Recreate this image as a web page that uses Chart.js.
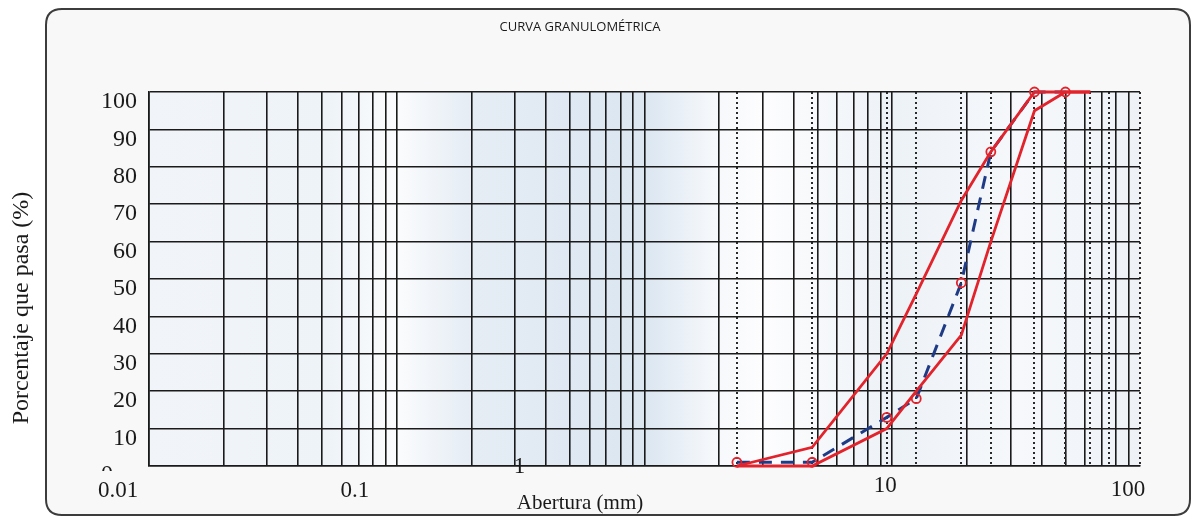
<!DOCTYPE html>
<html>
<head>
<meta charset="utf-8">
<title>Curva granulométrica</title>
<script src="https://cdn.jsdelivr.net/npm/chart.js@4/dist/chart.umd.min.js"></script>
<style>
  html, body { margin: 0; padding: 0; background: #ffffff; }
  #wrap { width: 1193px; height: 518px; position: relative; }
  canvas { display: block; }
</style>
</head>
<body>
<div id="wrap"><canvas id="chart" width="1193" height="518"></canvas></div>
<script>
// Sieve openings (mm) at which the curves are plotted
const sieveSizes = [2.36, 4.75, 9.5, 12.5, 19, 25, 37.5, 50, 63];
// Gradation limits (% passing)
const upperLimit = [0, 5, 30, 46, 71, 84, 100, 100, 100];
const lowerLimit = [0, 0, 10, 20, 35, 60, 95, 100, 100];
// Sample gradation (% passing)
const samplePassing = [1, 1, 13, 18, 49, 84, 100, 100, null];
// Dotted reference lines at the standard sieve openings (mm)
const sieveLines = [2.36, 4.75, 9.5, 12.5, 19, 25, 37.5, 50, 63, 75, 100];
// Axis labels
const xTickValues = [0.01, 0.1, 1, 10, 100];
const xTickLabels = ['0.01', '0.1', '1', '10', '100'];
const yTickValues = [0, 10, 20, 30, 40, 50, 60, 70, 80, 90, 100];

// Label placement tweaks (pixels) for the decade labels
const xLabelShift = [-31, -42, -125, -7, -12];
const xLabelY = [491, 491, 467, 486, 490];

const RED = '#e2232b';
const NAVY = '#1f3b86';
const INK = '#1a1a1a';
const SERIF = '"Liberation Serif", "DejaVu Serif", serif';

// Log grid: 1..9 times each decade
const logGrid = [];
for (let e = -2; e <= 1; e++) {
  for (let k = 1; k <= 9; k++) logGrid.push(k * Math.pow(10, e));
}

const toPoints = (vals) => sieveSizes.map((s, i) => ({ x: s, y: vals[i] }));

const framePlugin = {
  id: 'frame',
  beforeDraw(chart) {
    const { ctx, chartArea: a } = chart;
    ctx.save();
    // rounded outer panel
    const x0 = 46, y0 = 9, x1 = 1190, y1 = 515, r = 16;
    ctx.beginPath();
    ctx.moveTo(x0 + r, y0);
    ctx.lineTo(x1 - r, y0);
    ctx.quadraticCurveTo(x1, y0, x1, y0 + r);
    ctx.lineTo(x1, y1 - r);
    ctx.quadraticCurveTo(x1, y1, x1 - r, y1);
    ctx.lineTo(x0 + r, y1);
    ctx.quadraticCurveTo(x0, y1, x0, y1 - r);
    ctx.lineTo(x0, y0 + r);
    ctx.quadraticCurveTo(x0, y0, x0 + r, y0);
    ctx.closePath();
    ctx.fillStyle = '#f8f8f8';
    ctx.fill();
    ctx.lineWidth = 2;
    ctx.strokeStyle = '#3c3c3c';
    ctx.stroke();
    // plot area shading
    const g = ctx.createLinearGradient(a.left, 0, a.right, 0);
    g.addColorStop(0.00, '#f1f5f9');
    g.addColorStop(0.18, '#eef3f8');
    g.addColorStop(0.25, '#fbfcfd');
    g.addColorStop(0.32, '#e6edf5');
    g.addColorStop(0.50, '#dbe6f1');
    g.addColorStop(0.57, '#f6f8fb');
    g.addColorStop(0.62, '#fdfdfe');
    g.addColorStop(0.75, '#edf2f7');
    g.addColorStop(0.88, '#f6f8fb');
    g.addColorStop(1.00, '#eef2f7');
    ctx.fillStyle = g;
    ctx.fillRect(a.left, a.top, a.right - a.left, a.bottom - a.top);
    ctx.restore();
  },
  afterDraw(chart) {
    const { ctx } = chart;
    const xs = chart.scales.x;
    const ys = chart.scales.y;
    ctx.save();
    ctx.fillStyle = INK;
    // chart title
    ctx.font = '13px "Open Sans", sans-serif';
    ctx.textAlign = 'center';
    ctx.textBaseline = 'middle';
    ctx.fillText('CURVA GRANULOMÉTRICA', 580, 27);
    // decade labels
    ctx.font = '23px ' + SERIF;
    xTickValues.forEach((v, i) => {
      ctx.fillText(xTickLabels[i], xs.getPixelForValue(v) + xLabelShift[i], xLabelY[i]);
    });
    // axis titles
    ctx.font = '21px ' + SERIF;
    ctx.fillText('Abertura (mm)', 580, 503);
    ctx.save();
    ctx.translate(22, 308);
    ctx.rotate(-Math.PI / 2);
    ctx.font = '24px ' + SERIF;
    ctx.fillText('Porcentaje que pasa (%)', 0, 0);
    ctx.restore();
    // the zero label sits partly hidden under the axis strip
    ctx.beginPath();
    ctx.rect(60, ys.getPixelForValue(0) - 4, 90, 9);
    ctx.clip();
    ctx.font = '24px ' + SERIF;
    ctx.textAlign = 'center';
    ctx.textBaseline = 'top';
    ctx.fillText('0', 107, ys.getPixelForValue(0) - 3);
    ctx.restore();
  }
};

new Chart(document.getElementById('chart'), {
  type: 'line',
  data: {
    datasets: [
      {
        label: 'Límite superior',
        data: toPoints(upperLimit),
        borderColor: RED,
        borderWidth: 2.8,
        pointRadius: 0,
        tension: 0,
        clip: 6,
        xAxisID: 'x'
      },
      {
        label: 'Límite inferior',
        data: toPoints(lowerLimit),
        borderColor: RED,
        borderWidth: 2.8,
        pointRadius: 0,
        tension: 0,
        clip: 6,
        xAxisID: 'x'
      },
      {
        label: 'Muestra',
        data: toPoints(samplePassing),
        borderColor: NAVY,
        borderWidth: 3,
        borderDash: [13, 9],
        pointStyle: 'circle',
        pointRadius: 4.5,
        pointBorderColor: RED,
        pointBorderWidth: 1.8,
        pointBackgroundColor: 'rgba(255,255,255,0)',
        spanGaps: false,
        tension: 0,
        clip: 6,
        xAxisID: 'x'
      }
    ]
  },
  options: {
    responsive: false,
    animation: false,
    devicePixelRatio: 1,
    layout: { padding: { left: 0, right: 53, top: 92, bottom: 0 } },
    plugins: {
      legend: { display: false },
      title: { display: false },
      tooltip: { enabled: false }
    },
    scales: {
      x: {
        type: 'logarithmic',
        position: 'bottom',
        min: 0.01,
        max: 100,
        afterBuildTicks: (s) => { s.ticks = logGrid.map(v => ({ value: v })); },
        afterFit: (s) => { s.height = 52; },
        ticks: { display: false },
        grid: { color: INK, lineWidth: 1.6, drawTicks: false },
        border: { display: true, color: INK, width: 1.6 }
      },
      sieves: {
        type: 'logarithmic',
        position: 'top',
        min: 0.01,
        max: 100,
        afterBuildTicks: (s) => { s.ticks = sieveLines.map(v => ({ value: v })); },
        afterFit: (s) => { s.height = 0; },
        ticks: { display: false },
        grid: { color: '#2a2a2a', lineWidth: 2, drawTicks: false },
        border: { display: false, dash: [2, 3] }
      },
      y: {
        type: 'linear',
        min: 0,
        max: 100,
        afterBuildTicks: (s) => { s.ticks = yTickValues.map(v => ({ value: v })); },
        afterFit: (s) => { s.width = 149; },
        ticks: {
          color: INK,
          font: { family: SERIF, size: 24 },
          padding: 12,
          labelOffset: 10,
          callback: (v) => (v === 0 ? '' : String(v))
        },
        grid: { color: INK, lineWidth: 1.6, drawTicks: false },
        border: { display: true, color: INK, width: 1.6 }
      }
    }
  },
  plugins: [framePlugin]
});
</script>
</body>
</html>
